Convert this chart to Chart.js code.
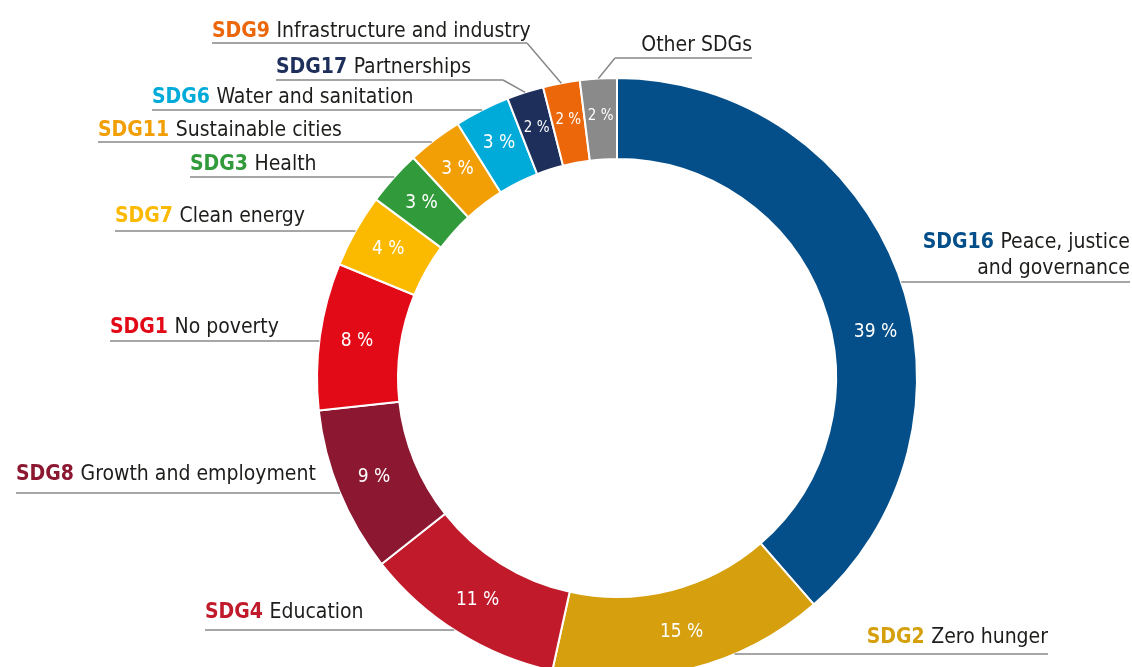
<!DOCTYPE html>
<html>
<head>
<meta charset="utf-8">
<title>Sustainable Development Goals</title>
<script src="https://cdn.jsdelivr.net/npm/chart.js@4.4.1/dist/chart.umd.min.js"></script>
<style>
  html, body { margin: 0; padding: 0; background: #fff; overflow: hidden; }
  #wrap { position: relative; width: 1132px; height: 756px; }
</style>
</head>
<body>
<div id="wrap"><canvas id="sdgchart" width="1132" height="756"></canvas></div>
<script>
const goalCodes = ['SDG16', 'SDG2', 'SDG4', 'SDG8', 'SDG1', 'SDG7', 'SDG3', 'SDG11', 'SDG6', 'SDG17', 'SDG9', ''];
const goalNames = [
    'Peace, justice\nand governance',
    'Zero hunger',
    'Education',
    'Growth and employment',
    'No poverty',
    'Clean energy',
    'Health',
    'Sustainable cities',
    'Water and sanitation',
    'Partnerships',
    'Infrastructure and industry',
    'Other SDGs'
];
const shares = [39, 15, 11, 9, 8, 4, 3, 3, 3, 2, 2, 2];
const goalColours = [
    '#044f89', '#d59f0e', '#c01a2b', '#8c1731', '#e20a16', '#fbb900',
    '#319a3a', '#f29e05', '#00aad9', '#1e2f5b', '#eb6709', '#8a8a8a'
];

// where each caption goes: side of the ring, text edge, underline height,
// text baselines, an elbow for the crowded top, and a nudge for the % label
const captions = [
    { side: 'right', edge: 1130, line: 282, base: [248, 274], turn: 10.5 },
    { side: 'right', edge: 1048, line: 654, base: [643] },
    { side: 'left', edge: 205, line: 630, base: [618] },
    { side: 'left', edge: 16, line: 493, base: [480] },
    { side: 'left', edge: 110, line: 341, base: [333] },
    { side: 'left', edge: 115, line: 231, base: [222] },
    { side: 'left', edge: 190, line: 177, base: [170] },
    { side: 'left', edge: 98, line: 142, base: [136] },
    { side: 'left', edge: 152, line: 110, base: [103] },
    { side: 'left', edge: 276, line: 80, base: [73], elbow: 503 },
    { side: 'left', edge: 212, line: 43, base: [37], elbow: 527 },
    { side: 'right', edge: 752, line: 58, base: [51], elbow: 615 }
];

const FONT = "'DejaVu Sans Condensed', 'DejaVu Sans', sans-serif";
const CAPTION_SIZE = 21;

function writeLine(ctx, code, text, x, y, align, colour) {
    ctx.font = `bold ${CAPTION_SIZE}px ${FONT}`;
    const codeW = code ? ctx.measureText(code + ' ').width : 0;
    ctx.font = `${CAPTION_SIZE}px ${FONT}`;
    const textW = ctx.measureText(text).width;
    const left = align === 'right' ? x - codeW - textW : x;
    ctx.textAlign = 'left';
    ctx.textBaseline = 'alphabetic';
    if (code) {
        ctx.font = `bold ${CAPTION_SIZE}px ${FONT}`;
        ctx.fillStyle = colour;
        ctx.fillText(code, left, y);
    }
    ctx.font = `${CAPTION_SIZE}px ${FONT}`;
    ctx.fillStyle = '#1d1d1b';
    ctx.fillText(text, left + codeW, y);
}

const captionPlugin = {
    id: 'sdgCaptions',
    afterDatasetsDraw(chart) {
        const ctx = chart.ctx;
        const arcs = chart.getDatasetMeta(0).data;
        ctx.save();
        arcs.forEach((arc, i) => {
            const {x, y, startAngle, endAngle, innerRadius, outerRadius} =
                arc.getProps(['x', 'y', 'startAngle', 'endAngle', 'innerRadius', 'outerRadius'], true);
            const place = captions[i];
            const mid = (startAngle + endAngle) / 2;

            // percentage inside the ring
            const a = mid + (place.turn || 0) * Math.PI / 180;
            const r = (innerRadius + outerRadius) / 2 + 3;
            ctx.fillStyle = '#fff';
            ctx.font = `${shares[i] <= 2 ? 15 : 19}px ${FONT}`;
            ctx.textAlign = 'center';
            ctx.textBaseline = 'middle';
            ctx.fillText(shares[i] + ' %', x + r * Math.cos(a), y + r * Math.sin(a));

            // underline and leader
            const dir = place.side === 'left' ? -1 : 1;
            let reachX;
            ctx.strokeStyle = '#888888';
            ctx.lineWidth = 1.5;
            ctx.beginPath();
            if (place.elbow) {
                reachX = place.elbow;
                ctx.moveTo(place.elbow, place.line);
                ctx.lineTo(x + outerRadius * Math.cos(mid), y + outerRadius * Math.sin(mid));
            } else {
                const dy = place.line - y;
                reachX = x + dir * Math.sqrt(Math.max(outerRadius * outerRadius - dy * dy, 0));
            }
            ctx.moveTo(place.edge, place.line);
            ctx.lineTo(reachX, place.line);
            ctx.stroke();

            // caption text
            const lines = goalNames[i].split('\n');
            lines.forEach((txt, k) => {
                writeLine(ctx, k === 0 ? goalCodes[i] : '', txt, place.edge, place.base[k],
                    place.side === 'left' ? 'left' : 'right', goalColours[i]);
            });
        });
        ctx.restore();
    }
};

const sdgChart = new Chart(document.getElementById('sdgchart'), {
    type: 'doughnut',
    data: {
        labels: goalCodes.map((c, i) => (c ? c + ' ' : '') + goalNames[i].replace('\n', ' ')),
        datasets: [{
            data: shares,
            backgroundColor: goalColours,
            borderColor: '#ffffff',
            borderWidth: 2
        }]
    },
    options: {
        responsive: false,
        animation: false,
        radius: 300,
        cutout: '73%',
        layout: { padding: { left: 102, right: 0, top: 0, bottom: 0 } },
        plugins: {
            legend: { display: false },
            tooltip: { enabled: false }
        }
    },
    plugins: [captionPlugin]
});
</script>
</body>
</html>
